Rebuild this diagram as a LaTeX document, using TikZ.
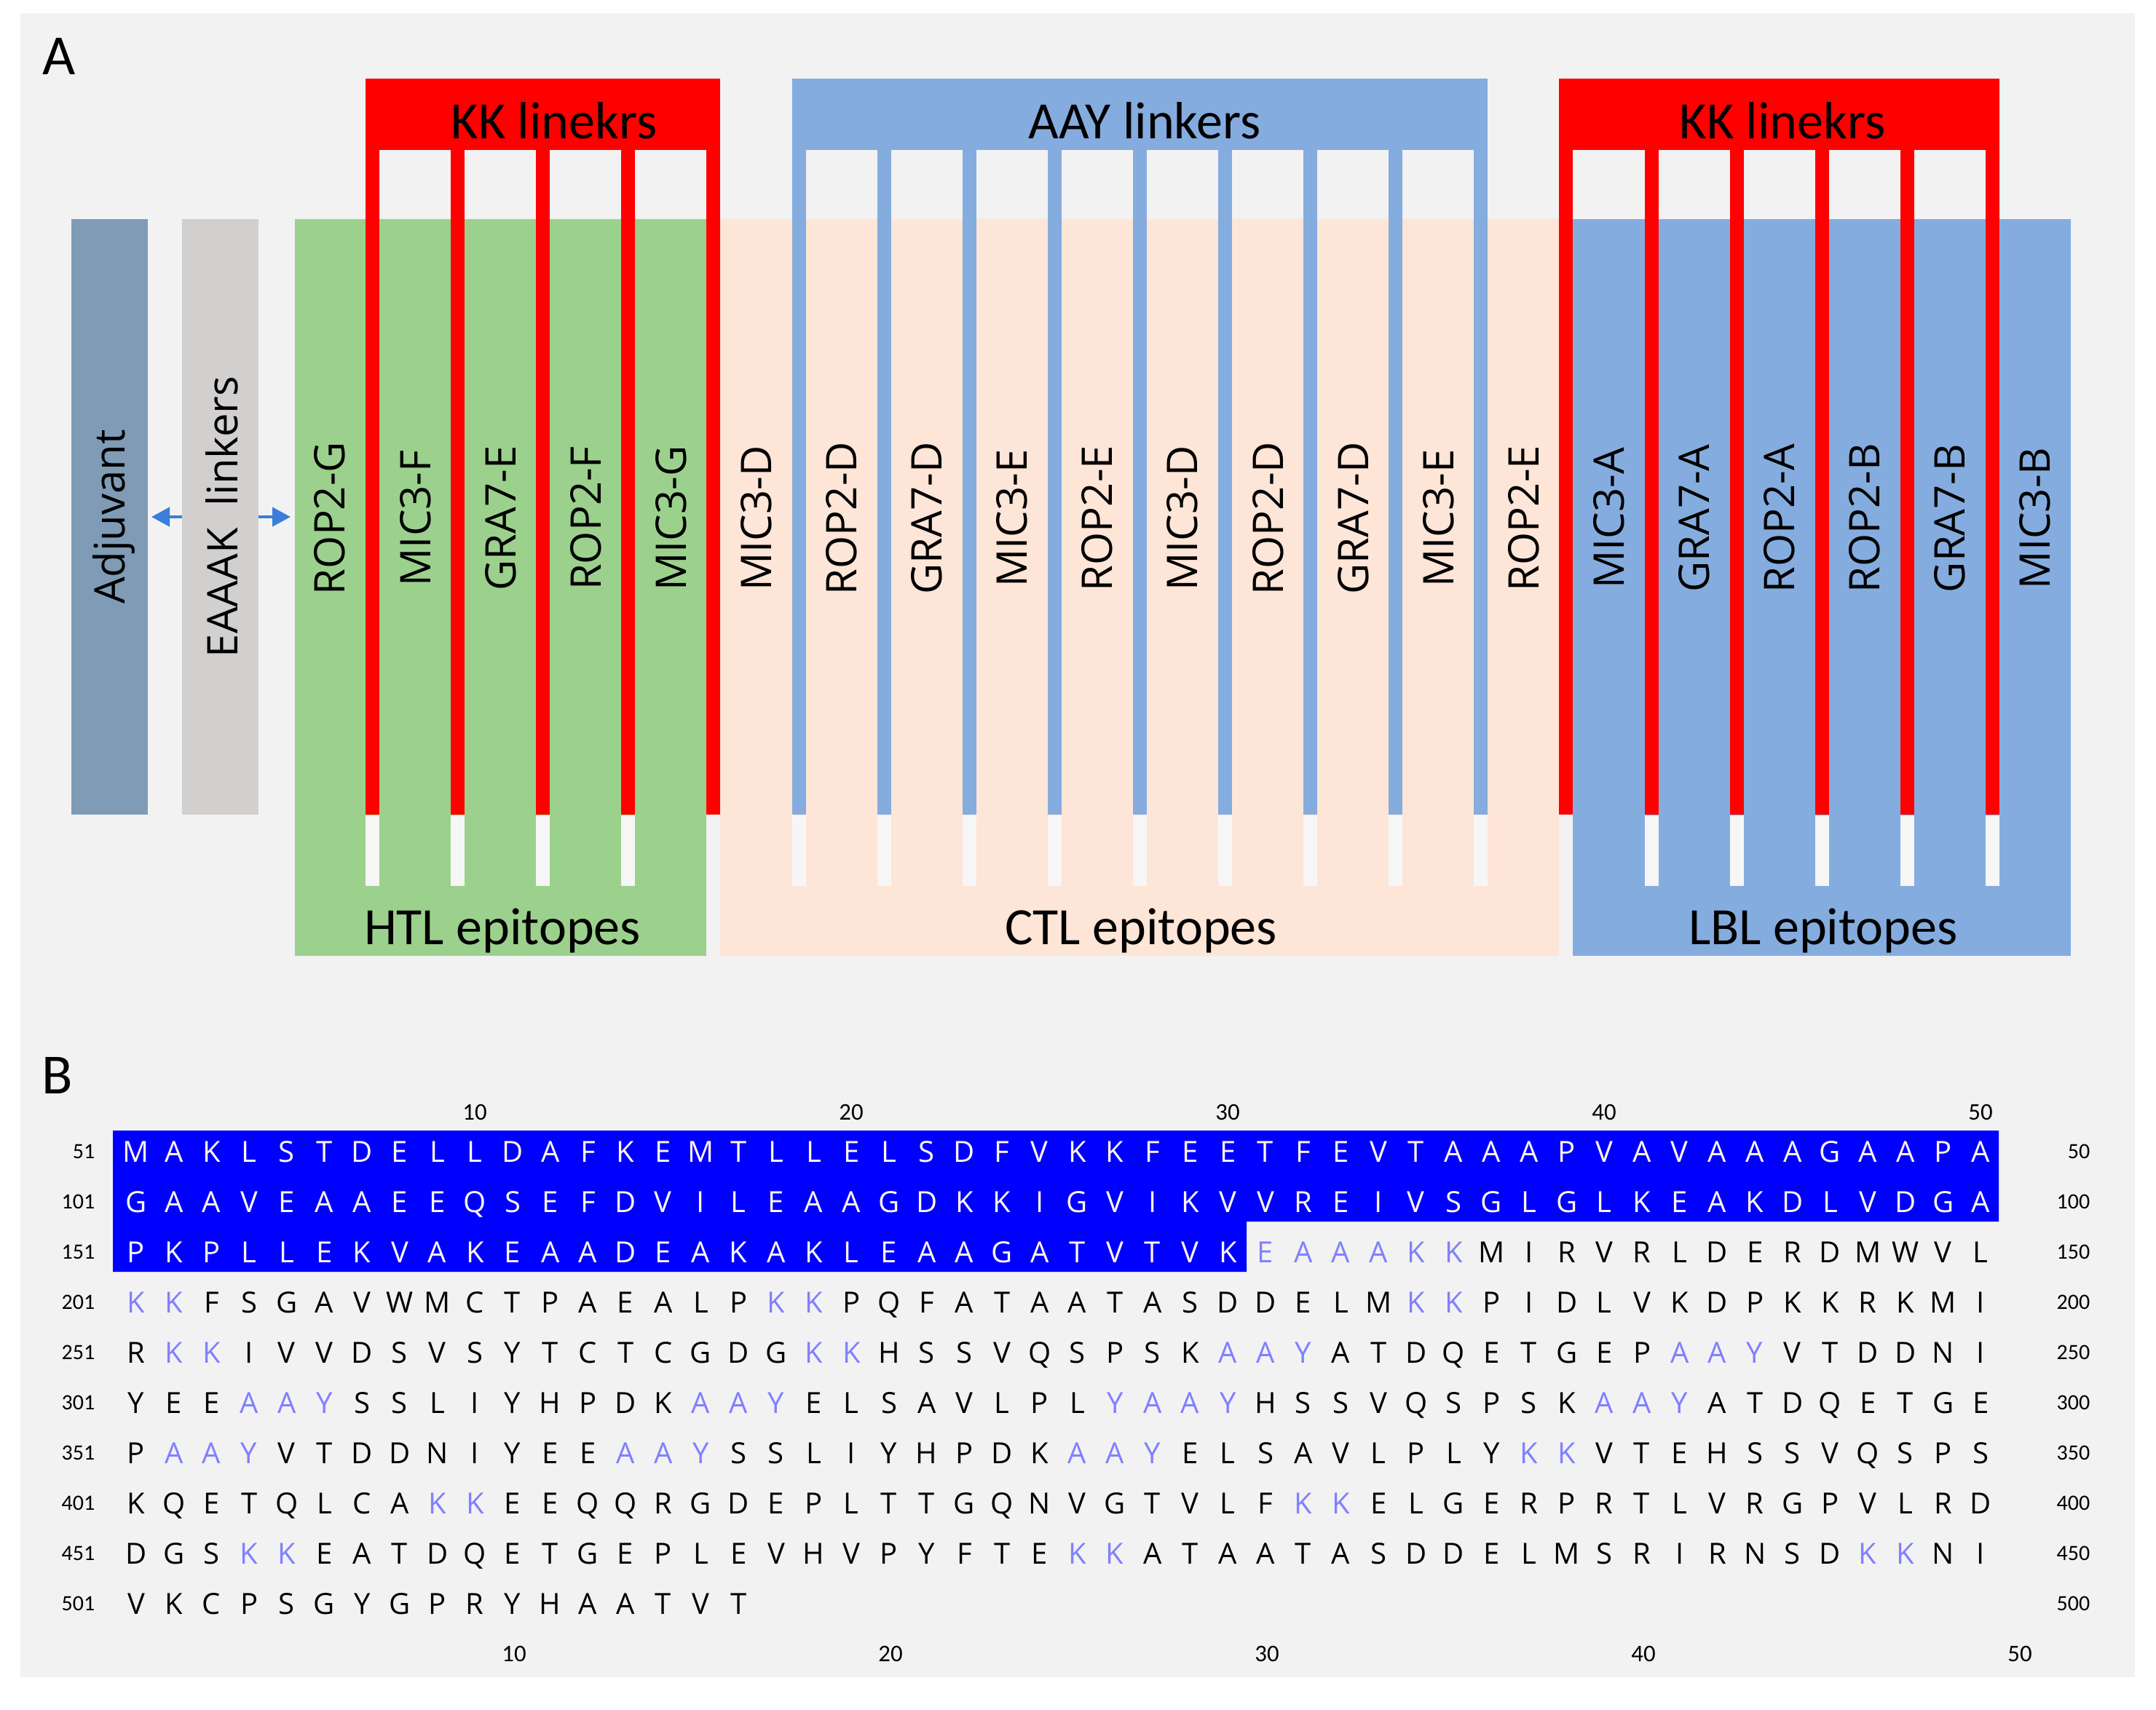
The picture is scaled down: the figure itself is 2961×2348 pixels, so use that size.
\documentclass[tikz,border=0pt]{standalone}
\usepackage{fontspec}
\setmainfont{Open Sans}
\newfontfamily\hdrf{Carlito}
\usetikzlibrary{arrows.meta,fit}
\definecolor{bgc}{HTML}{F2F2F2}
\definecolor{adjc}{HTML}{7F9BB6}
\definecolor{eaaakc}{HTML}{D2CFCF}
\definecolor{htlc}{HTML}{9CD18D}
\definecolor{ctlc}{HTML}{FDE5D7}
\definecolor{lblc}{HTML}{85ACDE}
\definecolor{kkc}{HTML}{FF0000}
\definecolor{arrc}{HTML}{3B7DD8}
\definecolor{hic}{HTML}{0000FF}
\definecolor{lkc}{HTML}{8080FF}
\definecolor{stripc}{HTML}{F6F6F6}
\definecolor{hitext}{HTML}{FFF4F0}
\newcommand\sq[1]{\ifx#1k\textcolor{lkc}{K}\else\ifx#1a\textcolor{lkc}{A}\else\ifx#1y\textcolor{lkc}{Y}\else\ifx#1e\textcolor{lkc}{E}\else#1\fi\fi\fi\fi}
\newcommand\seqrow[4]{%
  \foreach \ch [count=\i from #3] in {#4}
    \node[seqc, text=#2, name=s#1x\i] at ({187+(\i-1)*51.7},{1596.5+69*#1}) {\expandafter\sq\expandafter{\ch}};}
\begin{document}
\begin{tikzpicture}[x=0.25pt,y=-0.25pt,
  blk/.style={inner sep=0pt, outer sep=0pt, draw=none},
  hdr/.style={font=\hdrf\fontsize{18}{20}\selectfont, inner sep=0pt, anchor=base},
  big/.style={font=\hdrf\fontsize{19.5}{22}\selectfont, inner sep=0pt, anchor=base},
  eplbl/.style={font=\fontsize{14.5}{16}\selectfont, rotate=90, inner sep=0pt, anchor=base},
  seqc/.style={font=\fontsize{10}{12}\selectfont, inner sep=0pt, anchor=base},
  num/.style={font=\hdrf\fontsize{7.5}{9}\selectfont, inner sep=0pt},
  rul/.style={font=\hdrf\fontsize{8.2}{10}\selectfont, inner sep=0pt, anchor=base}]
\useasboundingbox (0,0) rectangle (2961,2348);
\fill[white] (0,0) rectangle (2961,2348);
\fill[bgc] (28,18) rectangle (2932,2304);
% ---------- Part A ----------
\node[big] (labA) at (81,102) {A};
\node[blk, fill=adjc, fit={(97.5,301) (203,1119)}] (adj) {};
\node[blk, fill=htlc, fit={(405,301) (970.4,1313)}] (htl) {};
\node[blk, fill=ctlc, fit={(989.4,301) (2141.4,1313)}] (ctl) {};
\node[blk, fill=lblc, fit={(2160.4,301) (2844,1313)}] (lbl) {};
\draw[arrc, line width=1pt, {Triangle[length=6.25pt,width=6.5pt]}-{Triangle[length=6.25pt,width=6.5pt]}, shorten <=1.25pt, shorten >=1.5pt] (adj.east) -- (adj.east -| htl.west);
\node[blk, fill=eaaakc, fit={(250,301) (355,1119)}] (eaaak) {};
% header boxes
\node[blk, fill=kkc, fit={(502,108) (989.4,206)}] (kk1) {};
\node[blk, fill=lblc, fit={(1087.5,108) (2043.3,206)}] (aay) {};
\node[blk, fill=kkc, fit={(2141.4,108) (2745.9,206)}] (kk2) {};
% vertical linker bars
\foreach \k in {0,...,4} \fill[kkc] ({502+117.1*\k},205) rectangle ++(19,914);
\foreach \k in {5,...,13} \fill[lblc] ({502+117.1*\k},205) rectangle ++(19,914);
\foreach \k in {14,...,19} \fill[kkc] ({502+117.1*\k},205) rectangle ++(19,914);
\foreach \k in {0,...,3,5,6,...,13,15,16,...,19} \fill[stripc] ({502+117.1*\k},1120) rectangle ++(19,97);
% header texts
\node[hdr] (t1) at (761,190) {KK linekrs};
\node[hdr] (t2) at (1572,190) {AAY linkers};
\node[hdr] (t3) at (2448,190) {KK linekrs};
\node[hdr] (t4) at (690,1297) {HTL epitopes};
\node[hdr] (t5) at (1567,1297) {CTL epitopes};
\node[hdr] (t6) at (2504,1297) {LBL epitopes};
% vertical labels
\node[eplbl] (adjlbl) at (171,710) {Adjuvant};
\node[eplbl] (eaaaklbl) at (326,710) {EAAAK\ \ linkers};
\foreach \t [count=\j from 0] in {ROP2-G,MIC3-F,GRA7-E,ROP2-F,MIC3-G,MIC3-D,ROP2-D,GRA7-D,MIC3-E,ROP2-E,MIC3-D,ROP2-D,GRA7-D,MIC3-E,ROP2-E,MIC3-A,GRA7-A,ROP2-A,ROP2-B,GRA7-B,MIC3-B}
  \node[eplbl, name=ep\j] at ({452.9+117.1*\j+21},712) {\t};
% ---------- Part B ----------
\node[big] (labB) at (79,1502) {B};
\fill[hic] (155,1553) -- (2745,1553) -- (2745,1678) -- (1712,1678) -- (1712,1747) -- (155,1747) -- cycle;
\foreach \n [count=\r from 0] in {10,20,30,40,50}
  \node[rul, name=rt\r] at ({652+517*\r},1538) {\n};
\foreach \n [count=\r from 0] in {10,20,30,40,50}
  \node[rul, name=rb\r] at ({706+517*\r},2282) {\n};
\foreach \n [count=\r from 0] in {51,101,151,201,251,301,351,401,451,501}
  \node[num, anchor=base east, name=ln\r] at (131,{1591.5+69*\r}) {\n};
\foreach \n [count=\r from 0] in {50,100,150,200,250,300,350,400,450,500}
  \node[num, anchor=base east, name=rn\r] at (2871,{1591.5+69*\r}) {\n};
\seqrow{0}{hitext}{1}{M,A,K,L,S,T,D,E,L,L,D,A,F,K,E,M,T,L,L,E,L,S,D,F,V,K,K,F,E,E,T,F,E,V,T,A,A,A,P,V,A,V,A,A,A,G,A,A,P,A}
\seqrow{1}{hitext}{1}{G,A,A,V,E,A,A,E,E,Q,S,E,F,D,V,I,L,E,A,A,G,D,K,K,I,G,V,I,K,V,V,R,E,I,V,S,G,L,G,L,K,E,A,K,D,L,V,D,G,A}
\seqrow{2}{hitext}{1}{P,K,P,L,L,E,K,V,A,K,E,A,A,D,E,A,K,A,K,L,E,A,A,G,A,T,V,T,V,K}
\seqrow{2}{black}{31}{e,a,a,a,k,k,M,I,R,V,R,L,D,E,R,D,M,W,V,L}
\seqrow{3}{black}{1}{k,k,F,S,G,A,V,W,M,C,T,P,A,E,A,L,P,k,k,P,Q,F,A,T,A,A,T,A,S,D,D,E,L,M,k,k,P,I,D,L,V,K,D,P,K,K,R,K,M,I}
\seqrow{4}{black}{1}{R,k,k,I,V,V,D,S,V,S,Y,T,C,T,C,G,D,G,k,k,H,S,S,V,Q,S,P,S,K,a,a,y,A,T,D,Q,E,T,G,E,P,a,a,y,V,T,D,D,N,I}
\seqrow{5}{black}{1}{Y,E,E,a,a,y,S,S,L,I,Y,H,P,D,K,a,a,y,E,L,S,A,V,L,P,L,y,a,a,y,H,S,S,V,Q,S,P,S,K,a,a,y,A,T,D,Q,E,T,G,E}
\seqrow{6}{black}{1}{P,a,a,y,V,T,D,D,N,I,Y,E,E,a,a,y,S,S,L,I,Y,H,P,D,K,a,a,y,E,L,S,A,V,L,P,L,Y,k,k,V,T,E,H,S,S,V,Q,S,P,S}
\seqrow{7}{black}{1}{K,Q,E,T,Q,L,C,A,k,k,E,E,Q,Q,R,G,D,E,P,L,T,T,G,Q,N,V,G,T,V,L,F,k,k,E,L,G,E,R,P,R,T,L,V,R,G,P,V,L,R,D}
\seqrow{8}{black}{1}{D,G,S,k,k,E,A,T,D,Q,E,T,G,E,P,L,E,V,H,V,P,Y,F,T,E,k,k,A,T,A,A,T,A,S,D,D,E,L,M,S,R,I,R,N,S,D,k,k,N,I}
\seqrow{9}{black}{1}{V,K,C,P,S,G,Y,G,P,R,Y,H,A,A,T,V,T}
\end{tikzpicture}
\end{document}
